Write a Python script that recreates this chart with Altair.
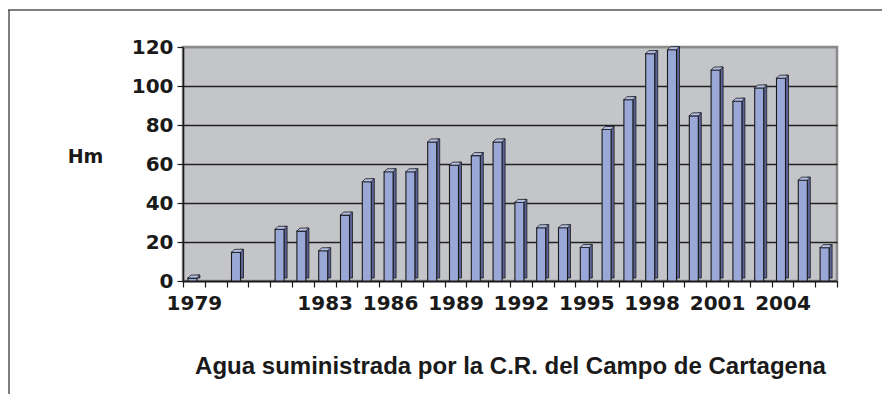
import json
import altair as alt
import pandas as pd

# ---- data ----
idx = list(range(30))
values = [1.5, 0, 14.7, 0, 26.5, 25.6, 15.5, 33.8, 50.9, 56, 56, 71.3,
          59.4, 64.3, 71.3, 40.3, 27.3, 27.3, 17.2, 77.7, 93, 116.6,
          118.6, 84.7, 108.2, 92.2, 99, 104, 51.7, 17.1]
labels = ["1979", "", "", "", "", "", "1983", "", "", "1986", "", "",
          "1989", "", "", "1992", "", "", "1995", "", "", "1998", "", "",
          "2001", "", "", "2004", "", ""]
y_ticks = [0, 20, 40, 60, 80, 100, 120]
y_title = "Hm"
x_title = "Agua suministrada por la C.R. del Campo de Cartagena"

df = pd.DataFrame({"idx": idx, "value": values})
df = df[df["value"] > 0]

INK = "#1a1a1a"
AXFONT = "DejaVu Sans"

x_enc = alt.X(
    "idx:O",
    scale=alt.Scale(domain=idx, paddingInner=0, paddingOuter=0),
    axis=alt.Axis(
        labelExpr=json.dumps(labels) + "[datum.value]",
        labelAngle=0,
        labelFont=AXFONT, labelFontWeight="bold", labelFontSize=20,
        labelColor=INK, labelPadding=6, labelOverlap=False,
        tickBand="extent", tickColor=INK, tickSize=6, tickWidth=1.2,
        domainColor=INK, domainWidth=1.5,
        title=x_title, titleFont="Liberation Sans", titleFontWeight="bold",
        titleFontSize=24, titleColor=INK, titleY=92,
        titleBaseline="alphabetic",
    ),
)
y_enc = alt.Y(
    "value:Q",
    scale=alt.Scale(domain=[0, 120]),
    axis=alt.Axis(
        values=y_ticks,
        labelFont=AXFONT, labelFontWeight="bold", labelFontSize=20,
        labelColor=INK, labelPadding=4,
        tickColor=INK, tickSize=6, tickWidth=1.2,
        domainColor=INK, domainWidth=1.5,
        grid=True,
        gridColor={"condition": {"test": "datum.value == 120", "value": "#8a8a8a"},
                   "value": "#222222"},
        gridWidth=1.6,
        title=y_title, titleAngle=0, titleFont=AXFONT, titleFontWeight="bold",
        titleFontSize=19, titleColor=INK, titleX=-98, titleY=115,
        titleAlign="center", titleBaseline="alphabetic",
    ),
)

base = alt.Chart(df).encode(x=x_enc, y=y_enc)

side = base.mark_bar(width=3, xOffset=4.5, yOffset=-3, y2Offset=-1.5,
                     color="#5c6399", stroke=INK, strokeWidth=0.8)
front = base.mark_bar(width=9, xOffset=-1.5, color="#9aa8d8",
                      stroke=INK, strokeWidth=1.1)
top = base.mark_point(shape="M -1 0 L 0.5 0 L 1 -0.5 L -0.5 -0.5 Z",
                      size=144, filled=True, fill="#b4bfe6", stroke=INK,
                      strokeWidth=0.8, opacity=1)

frame = pd.DataFrame({"k": [0]})
top_line = alt.Chart(frame).mark_rule(color="#555555", strokeWidth=1.5).encode(
    x=alt.value(-175), x2=alt.value(700), y=alt.value(-37))
left_line = alt.Chart(frame).mark_rule(color="#555555", strokeWidth=1.5).encode(
    x=alt.value(-174), y=alt.value(-37), y2=alt.value(360))

chart = alt.layer(side, front, top, top_line, left_line).properties(
    width=654, height=234,
    autosize=alt.AutoSizeParams(type="none"),
    padding={"left": 175, "top": 39, "right": 45, "bottom": 113},
    background="white",
).configure_view(fill="#c4c5c8", stroke="#8a8a8a", strokeWidth=2.5)

chart.save("out.html", embed_options={"renderer": "svg", "actions": False})
